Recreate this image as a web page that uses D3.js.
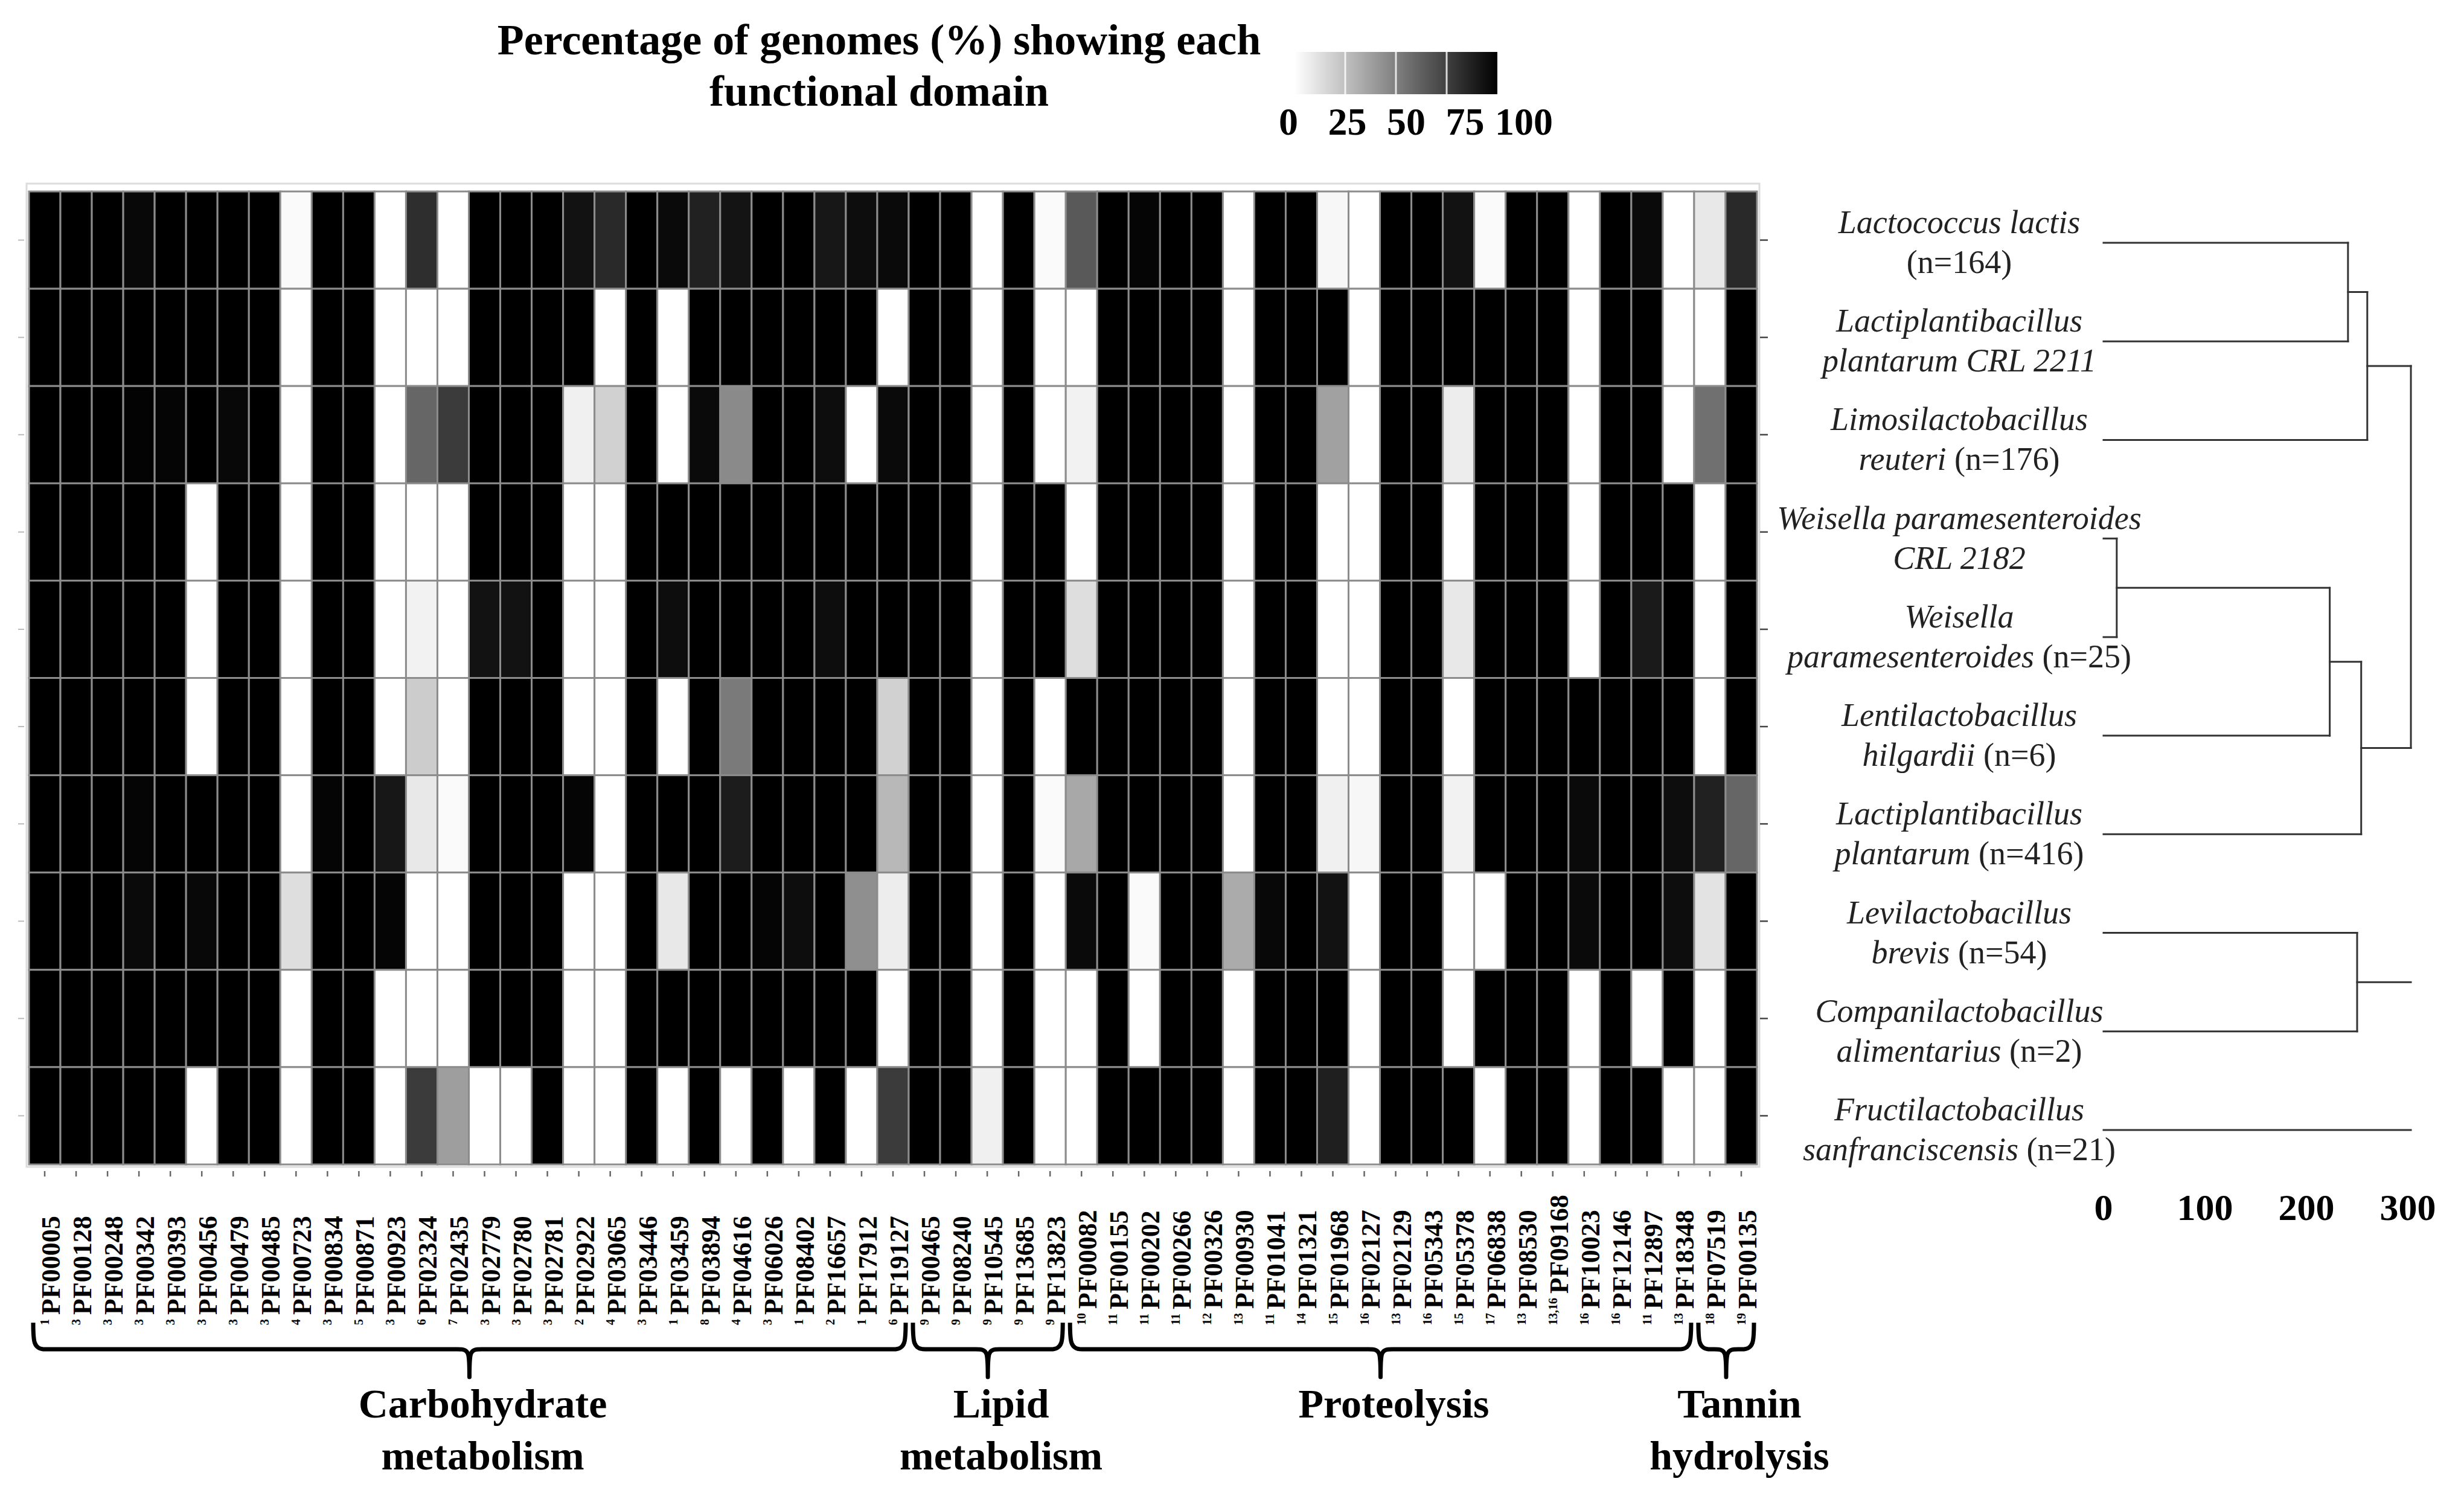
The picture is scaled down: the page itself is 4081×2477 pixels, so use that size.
<!DOCTYPE html>
<html><head><meta charset="utf-8">
<script src="https://cdn.jsdelivr.net/npm/d3@7"></script>
<style>
body{margin:0;background:#fff}
svg{display:block}
text{font-family:"Liberation Serif","Times New Roman",serif}
</style>
</head><body>
<svg id="chart" width="4081" height="2477"></svg>
<script>
// ---------------- DATA ----------------
const domains = ["PF00005","PF00128","PF00248","PF00342","PF00393","PF00456","PF00479","PF00485","PF00723","PF00834",
"PF00871","PF00923","PF02324","PF02435","PF02779","PF02780","PF02781","PF02922","PF03065","PF03446",
"PF03459","PF03894","PF04616","PF06026","PF08402","PF16657","PF17912","PF19127",
"PF00465","PF08240","PF10545","PF13685","PF13823",
"PF00082","PF00155","PF00202","PF00266","PF00326","PF00930","PF01041","PF01321","PF01968","PF02127",
"PF02129","PF05343","PF05378","PF06838","PF08530","PF09168","PF10023","PF12146","PF12897","PF18348",
"PF07519","PF00135"];
const domainNotes = ["1","3","3","3","3","3","3","3","4","3","5","3","6","7","3","3","3","2","4","3",
"1","8","4","3","1","2","1","6",
"9","9","9","9","9",
"10","11","11","11","12","13","11","14","15","16","13","16","15","17","13","13,16","16","16","11","13",
"18","19"];
const groupNames = [["Carbohydrate","metabolism"],["Lipid","metabolism"],["Proteolysis"],["Tannin","hydrolysis"]];
const groupSizes = [28,5,20,2];

const rowLine1 = ["Lactococcus lactis","Lactiplantibacillus","Limosilactobacillus","Weisella paramesenteroides",
"Weisella","Lentilactobacillus","Lactiplantibacillus","Levilactobacillus","Companilactobacillus","Fructilactobacillus"];
const rowLine2Italic = ["","plantarum CRL 2211","reuteri","CRL 2182","paramesenteroides","hilgardii","plantarum","brevis","alimentarius","sanfranciscensis"];
const rowLine2Plain = ["(n=164)","","(n=176)","","(n=25)","(n=6)","(n=416)","(n=54)","(n=2)","(n=21)"];

// percentage of genomes showing each domain (rows = strains, columns = domains)
const pct = [
[100,100,100,97,100,100,100,100,2,100, 100,0,82,0,100,100,100,93,84,100, 96,87,92,100,100,91,95,96,100,100, 0,100,2,65,100,98,100,100,0,100, 100,3,0,100,100,93,2,100,100,0, 100,96,0,9,84],
[100,100,100,100,100,100,100,100,0,100, 100,0,0,0,100,100,100,100,0,100, 0,100,100,100,100,100,100,0,100,100, 0,100,0,0,100,100,100,100,0,100, 100,100,0,100,100,100,100,100,100,0, 100,100,0,0,100],
[100,100,100,99,98,100,97,100,0,100, 100,0,60,77,100,100,100,6,18,100, 0,96,46,100,100,95,0,96,100,100, 0,100,0,5,100,100,100,100,0,100, 100,37,0,100,100,7,100,100,100,0, 100,100,0,56,100],
[100,100,100,100,100,0,100,100,0,100, 100,0,0,0,100,100,100,0,0,100, 100,100,100,100,100,100,100,100,100,100, 0,100,100,0,100,100,100,100,0,100, 100,0,0,100,100,0,100,100,100,0, 100,100,100,0,100],
[100,100,100,100,100,0,100,100,0,100, 100,0,5,0,93,93,100,0,0,100, 95,100,100,100,100,95,100,100,100,100, 0,100,100,13,100,100,100,100,0,100, 100,0,0,100,100,9,100,100,100,0, 100,90,100,0,100],
[100,100,100,100,100,0,100,100,0,100, 100,0,20,0,100,100,100,0,0,100, 0,100,52,100,100,100,100,18,100,100, 0,100,0,100,100,100,100,100,0,100, 100,0,0,100,100,0,100,100,100,100, 100,100,100,0,100],
[100,100,100,98,100,100,100,100,0,98, 100,91,9,2,100,100,100,98,0,100, 100,100,89,100,100,100,100,28,100,100, 0,100,2,34,100,100,100,100,0,100, 100,6,3,100,100,5,100,100,100,96, 100,100,95,87,60],
[100,100,100,96,100,97,100,100,13,100, 100,98,0,0,100,100,100,0,0,100, 9,100,100,98,95,100,44,7,100,100, 0,100,0,96,100,2,100,100,33,97, 100,93,0,100,100,0,0,100,100,96, 100,100,95,11,100],
[100,100,100,100,100,100,100,100,0,100, 100,0,0,0,100,100,100,0,0,100, 100,100,100,100,100,100,100,0,100,100, 0,100,0,0,100,0,100,100,0,100, 100,100,0,100,100,0,100,100,100,0, 100,0,100,0,100],
[100,100,100,100,100,0,100,100,0,100, 100,0,77,38,0,0,100,0,0,100, 0,100,0,100,0,100,0,77,100,100, 6,100,0,0,100,100,100,100,0,100, 100,88,0,100,100,100,0,100,100,0, 100,100,0,0,100]
];

// dendrogram merges (leaf indices or merge ids) and heights
const merges = [
  {id:"A", a:0,   b:1, h:241},
  {id:"B", a:"A", b:2, h:260},
  {id:"C", a:3,   b:4, h:13},
  {id:"D", a:"C", b:5, h:223},
  {id:"E", a:"D", b:6, h:254},
  {id:"F", a:"B", b:"E", h:303},
  {id:"G", a:7,   b:8, h:250}
];
const openStems = ["G", 9];
const dendroTicks = [0,100,200,300];
const legendTicks = [0,25,50,75,100];
const titleLines = ["Percentage of genomes (%) showing each","functional domain"];

// ---------------- LAYOUT ----------------
const svg = d3.select("#chart");
svg.append("rect").attr("width",4081).attr("height",2477).attr("fill","#fff");

const hm = {x0:48, x1:2910, y0:317, y1:1928};
const x = d3.scaleBand().domain(d3.range(domains.length)).range([hm.x0, hm.x1]);
const y = d3.scaleBand().domain(d3.range(rowLine1.length)).range([hm.y0, hm.y1]);
const color = d3.scaleLinear().domain([0,100]).range(["#ffffff","#000000"]);

// panel frame
svg.append("rect").attr("x",44).attr("y",304).attr("width",2870).attr("height",1628)
  .attr("fill","none").attr("stroke","#dcdcdc").attr("stroke-width",3);

// cells
const cells = [];
pct.forEach((row,r)=>row.forEach((v,c)=>cells.push({r,c,v})));
svg.append("g").selectAll("rect").data(cells).join("rect")
  .attr("x",d=>x(d.c)).attr("y",d=>y(d.r))
  .attr("width",x.bandwidth()).attr("height",y.bandwidth())
  .attr("fill",d=>color(d.v))
  .attr("stroke","#8c8c8c").attr("stroke-width",3);

// right ticks
svg.append("g").selectAll("line").data(d3.range(rowLine1.length)).join("line")
  .attr("x1",hm.x1+5).attr("x2",hm.x1+18)
  .attr("y1",d=>y(d)+y.bandwidth()/2).attr("y2",d=>y(d)+y.bandwidth()/2)
  .attr("stroke","#444").attr("stroke-width",2.5);
// left ticks (faint)
svg.append("g").selectAll("line").data(d3.range(rowLine1.length)).join("line")
  .attr("x1",30).attr("x2",40)
  .attr("y1",d=>y(d)+y.bandwidth()/2).attr("y2",d=>y(d)+y.bandwidth()/2)
  .attr("stroke","#bbb").attr("stroke-width",2);
// bottom ticks
svg.append("g").selectAll("line").data(d3.range(domains.length)).join("line")
  .attr("x1",d=>x(d)+x.bandwidth()/2).attr("x2",d=>x(d)+x.bandwidth()/2)
  .attr("y1",1939).attr("y2",1948)
  .attr("stroke","#666").attr("stroke-width",2.5);

// column labels (rotated)
const colLab = svg.append("g").selectAll("g").data(domains).join("g")
  .attr("transform",(d,i)=>`translate(${x(i)+x.bandwidth()/2},2194) rotate(-90)`);
const ct = colLab.append("text").attr("x",0).attr("y",25).attr("font-weight","bold");
ct.append("tspan").attr("font-size",20).attr("dy",-18).text((d,i)=>domainNotes[i]);
ct.append("tspan").attr("font-size",44).attr("dx",7).attr("dy",18).text(d=>d);

// group braces
let start = 0;
const braceG = svg.append("g");
groupSizes.forEach((n,gi)=>{
  const x0 = x(start)+7, x1 = x(start+n-1)+x.bandwidth()-5;
  const xm = (x0+x1)/2, yTop=2190, yBar=2234, yTip=2280, r=20;
  const p = `M${x0},${yTop} C${x0},${yBar-14} ${x0},${yBar} ${x0+r},${yBar} L${xm-r},${yBar} C${xm},${yBar} ${xm},${yBar+4} ${xm},${yTip} C${xm},${yBar+4} ${xm},${yBar} ${xm+r},${yBar} L${x1-r},${yBar} C${x1},${yBar} ${x1},${yBar-14} ${x1},${yTop}`;
  braceG.append("path").attr("d",p).attr("fill","none").attr("stroke","#000").attr("stroke-width",7)
    .attr("stroke-linejoin","round");
  const t = braceG.append("text").attr("text-anchor","middle").attr("font-weight","bold").attr("font-size",68);
  groupNames[gi].forEach((line,li)=>{
    t.append("tspan").attr("x",xm+22).attr("y",2347+li*86).text(line);
  });
  start += n;
});

// title
svg.append("g").selectAll("text").data(titleLines).join("text")
  .attr("x",1456).attr("y",(d,i)=>90+i*85)
  .attr("text-anchor","middle").attr("font-weight","bold").attr("font-size",72).text(d=>d);

// legend
const lg = {x0:2144, x1:2480, y0:86, y1:156};
const defs = svg.append("defs");
const grad = defs.append("linearGradient").attr("id","lg");
d3.range(0,101,10).forEach(v=>grad.append("stop").attr("offset",v+"%").attr("stop-color",color(v)));
svg.append("rect").attr("x",lg.x0).attr("y",lg.y0).attr("width",lg.x1-lg.x0).attr("height",lg.y1-lg.y0)
  .attr("fill","url(#lg)");
const lgScale = d3.scaleLinear().domain([0,100]).range([lg.x0,lg.x1]);
svg.append("g").selectAll("line").data(legendTicks.slice(1,-1)).join("line")
  .attr("x1",d=>lgScale(d)).attr("x2",d=>lgScale(d)).attr("y1",lg.y0).attr("y2",lg.y1)
  .attr("stroke","#fff").attr("stroke-width",3).attr("opacity",0.8);
const lgLab = d3.scaleLinear().domain([0,100]).range([2134,2524]);
svg.append("g").selectAll("text").data(legendTicks).join("text")
  .attr("x",d=>lgLab(d)).attr("y",223).attr("text-anchor","middle")
  .attr("font-weight","bold").attr("font-size",64).text(d=>d);

// dendrogram
const dy = d3.scalePoint().domain(d3.range(rowLine1.length)).range([402,1871]);
const dx = d3.scaleLinear().domain([0,300]).range([3484,3988]);
const byId = Object.fromEntries(merges.map(m=>[m.id,m]));
const nodeY = n => (typeof n === "number") ? dy(n) : (nodeY(byId[n].a)+nodeY(byId[n].b))/2;
const nodeH = n => (typeof n === "number") ? 0 : byId[n].h;
const segs = [];
merges.forEach(m=>{
  segs.push([dx(m.h),nodeY(m.a),dx(m.h),nodeY(m.b)]);
  [m.a,m.b].forEach(c=>segs.push([dx(nodeH(c)),nodeY(c),dx(m.h),nodeY(c)]));
});
const topH = d3.max(merges,m=>m.h);
openStems.forEach(n=>segs.push([dx(nodeH(n)),nodeY(n),dx(topH),nodeY(n)]));
svg.append("g").selectAll("line").data(segs).join("line")
  .attr("x1",d=>d[0]).attr("y1",d=>d[1]).attr("x2",d=>d[2]).attr("y2",d=>d[3])
  .attr("stroke","#333").attr("stroke-width",3).attr("stroke-linecap","square");
svg.append("g").selectAll("text").data(dendroTicks).join("text")
  .attr("x",d=>dx(d)).attr("y",2020).attr("text-anchor","middle")
  .attr("font-weight","bold").attr("font-size",62).text(d=>d);

// row labels
const rl = svg.append("g").selectAll("g").data(rowLine1).join("g");
rl.append("text").attr("x",3245).attr("y",(d,i)=>dy(i)-16).attr("text-anchor","middle")
  .attr("font-size",54).attr("font-style","italic").attr("fill","#222").text(d=>d);
const l2 = rl.append("text").attr("x",3245).attr("y",(d,i)=>dy(i)+50).attr("text-anchor","middle")
  .attr("font-size",54).attr("fill","#222");
l2.append("tspan").attr("font-style","italic").text((d,i)=>rowLine2Italic[i]);
l2.append("tspan").text((d,i)=>(rowLine2Italic[i] && rowLine2Plain[i] ? " " : "") + rowLine2Plain[i]);
</script>
</body></html>
